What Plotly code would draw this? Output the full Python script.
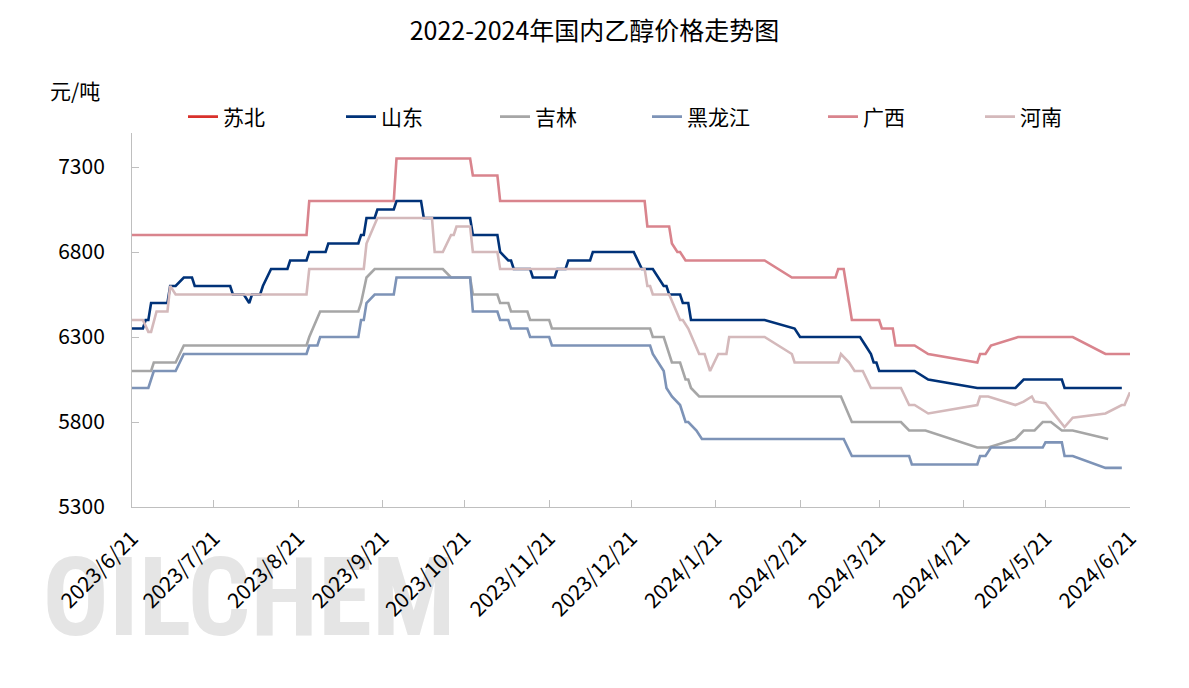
import plotly.graph_objects as go

# ---------------- data ----------------
tick_dates = ["2023-06-21", "2023-07-21", "2023-08-21", "2023-09-21", "2023-10-21",
              "2023-11-21", "2023-12-21", "2024-01-21", "2024-02-21", "2024-03-21",
              "2024-04-21", "2024-05-21", "2024-06-21"]
tick_labels = ["2023/6/21", "2023/7/21", "2023/8/21", "2023/9/21", "2023/10/21",
               "2023/11/21", "2023/12/21", "2024/1/21", "2024/2/21", "2024/3/21",
               "2024/4/21", "2024/5/21", "2024/6/21"]
y_ticks = [5300, 5800, 6300, 6800, 7300]

# 苏北: no values shown in the chart (legend only)
sb_dates = ["2023-06-21"]
sb_values = [None]

sd_dates = ["2023-06-21", "2023-06-25", "2023-06-26", "2023-06-27", "2023-06-28", "2023-07-04",
            "2023-07-05", "2023-07-07", "2023-07-10", "2023-07-13", "2023-07-14", "2023-07-27",
            "2023-07-28", "2023-08-01", "2023-08-03", "2023-08-04", "2023-08-07", "2023-08-08",
            "2023-08-11", "2023-08-17", "2023-08-18", "2023-08-24", "2023-08-25", "2023-08-31",
            "2023-09-01", "2023-09-12", "2023-09-13", "2023-09-14", "2023-09-15", "2023-09-18",
            "2023-09-19", "2023-09-25", "2023-09-26", "2023-10-05", "2023-10-06", "2023-10-23",
            "2023-10-24", "2023-11-02", "2023-11-03", "2023-11-06", "2023-11-07", "2023-11-08",
            "2023-11-14", "2023-11-15", "2023-11-23", "2023-11-24", "2023-11-27", "2023-11-28",
            "2023-12-06", "2023-12-07", "2023-12-22", "2023-12-25", "2023-12-29", "2024-01-02",
            "2024-01-03", "2024-01-04", "2024-01-08", "2024-01-09", "2024-01-11", "2024-01-12",
            "2024-02-08", "2024-02-19", "2024-02-21", "2024-03-14", "2024-03-16", "2024-03-18",
            "2024-03-19", "2024-03-20", "2024-03-21", "2024-04-03", "2024-04-08", "2024-04-26",
            "2024-05-10", "2024-05-13", "2024-05-27", "2024-05-28", "2024-06-18"]
sd_values = [6350, 6350, 6400, 6400, 6500, 6500,
             6600, 6600, 6650, 6650, 6600, 6600,
             6550, 6550, 6500, 6550, 6550, 6600,
             6700, 6700, 6750, 6750, 6800, 6800,
             6850, 6850, 6900, 6900, 7000, 7000,
             7050, 7050, 7100, 7100, 7000, 7000,
             6900, 6900, 6800, 6750, 6750, 6700,
             6700, 6650, 6650, 6700, 6700, 6750,
             6750, 6800, 6800, 6700, 6700, 6600,
             6600, 6550, 6550, 6500, 6500, 6400,
             6400, 6350, 6300, 6300, 6250, 6200,
             6150, 6150, 6100, 6100, 6050, 6000,
             6000, 6050, 6050, 6000, 6000]

jl_dates = ["2023-06-21", "2023-06-28", "2023-06-29", "2023-07-07", "2023-07-10", "2023-08-24",
            "2023-08-25", "2023-08-29", "2023-09-12", "2023-09-13", "2023-09-15", "2023-09-18",
            "2023-10-13", "2023-10-16", "2023-10-23", "2023-10-24", "2023-11-02", "2023-11-03",
            "2023-11-06", "2023-11-07", "2023-11-13", "2023-11-14", "2023-11-21", "2023-11-22",
            "2023-12-28", "2023-12-29", "2024-01-02", "2024-01-04", "2024-01-05", "2024-01-08",
            "2024-01-10", "2024-01-11", "2024-01-12", "2024-01-15", "2024-03-07", "2024-03-11",
            "2024-03-29", "2024-04-01", "2024-04-07", "2024-04-26", "2024-04-30", "2024-05-10",
            "2024-05-13", "2024-05-17", "2024-05-20", "2024-05-23", "2024-05-27", "2024-05-31",
            "2024-06-13"]
jl_values = [6100, 6100, 6150, 6150, 6250, 6250,
             6300, 6450, 6450, 6500, 6650, 6700,
             6700, 6650, 6650, 6550, 6550, 6500,
             6500, 6450, 6450, 6400, 6400, 6350,
             6350, 6300, 6300, 6200, 6150, 6150,
             6050, 6050, 6000, 5950, 5950, 5800,
             5800, 5750, 5750, 5650, 5650, 5700,
             5750, 5750, 5800, 5800, 5750, 5750,
             5700]

hlj_dates = ["2023-06-21", "2023-06-27", "2023-06-29", "2023-07-07", "2023-07-10", "2023-08-24",
             "2023-08-25", "2023-08-28", "2023-08-29", "2023-09-12", "2023-09-13", "2023-09-14",
             "2023-09-15", "2023-09-18", "2023-09-25", "2023-09-26", "2023-10-23", "2023-10-24",
             "2023-11-02", "2023-11-03", "2023-11-06", "2023-11-07", "2023-11-13", "2023-11-14",
             "2023-11-21", "2023-11-22", "2023-12-28", "2023-12-29", "2024-01-02", "2024-01-03",
             "2024-01-05", "2024-01-08", "2024-01-10", "2024-01-11", "2024-01-14", "2024-01-16",
             "2024-03-08", "2024-03-11", "2024-04-01", "2024-04-02", "2024-04-26", "2024-04-27",
             "2024-04-29", "2024-05-01", "2024-05-20", "2024-05-21", "2024-05-27", "2024-05-28",
             "2024-05-31", "2024-06-12", "2024-06-18"]
hlj_values = [6000, 6000, 6100, 6100, 6200, 6200,
              6250, 6250, 6300, 6300, 6400, 6400,
              6500, 6550, 6550, 6650, 6650, 6450,
              6450, 6400, 6400, 6350, 6350, 6300,
              6300, 6250, 6250, 6200, 6100, 6000,
              5950, 5900, 5800, 5800, 5750, 5700,
              5700, 5600, 5600, 5550, 5550, 5600,
              5600, 5650, 5650, 5680, 5680, 5600,
              5600, 5530, 5530]

gx_dates = ["2023-06-21", "2023-08-24", "2023-08-25", "2023-09-25", "2023-09-26", "2023-10-23",
            "2023-10-24", "2023-11-02", "2023-11-03", "2023-12-26", "2023-12-27", "2024-01-04",
            "2024-01-05", "2024-01-07", "2024-01-08", "2024-01-10", "2024-02-08", "2024-02-18",
            "2024-03-05", "2024-03-06", "2024-03-08", "2024-03-11", "2024-03-21", "2024-03-22",
            "2024-03-26", "2024-03-27", "2024-04-03", "2024-04-08", "2024-04-26", "2024-04-27",
            "2024-04-29", "2024-05-01", "2024-05-11", "2024-05-31", "2024-06-12", "2024-06-21"]
gx_values = [6900, 6900, 7100, 7100, 7350, 7350,
             7250, 7250, 7100, 7100, 6950, 6950,
             6850, 6800, 6800, 6750, 6750, 6650,
             6650, 6700, 6700, 6400, 6400, 6350,
             6350, 6250, 6250, 6200, 6150, 6200,
             6200, 6250, 6300, 6300, 6200, 6200]

hn_dates = ["2023-06-21", "2023-06-25", "2023-06-27", "2023-06-28", "2023-06-30", "2023-07-04",
            "2023-07-05", "2023-07-07", "2023-08-24", "2023-08-25", "2023-09-14", "2023-09-15",
            "2023-09-19", "2023-10-09", "2023-10-10", "2023-10-13", "2023-10-16", "2023-10-17",
            "2023-10-18", "2023-10-23", "2023-10-24", "2023-11-02", "2023-11-03", "2023-12-26",
            "2023-12-27", "2023-12-28", "2023-12-29", "2024-01-04", "2024-01-08", "2024-01-09",
            "2024-01-11", "2024-01-15", "2024-01-17", "2024-01-19", "2024-01-22", "2024-01-25",
            "2024-01-26", "2024-02-08", "2024-02-18", "2024-02-19", "2024-03-06", "2024-03-07",
            "2024-03-10", "2024-03-12", "2024-03-15", "2024-03-18", "2024-03-29", "2024-04-01",
            "2024-04-03", "2024-04-08", "2024-04-26", "2024-04-27", "2024-04-30", "2024-05-10",
            "2024-05-13", "2024-05-16", "2024-05-17", "2024-05-21", "2024-05-28", "2024-05-31",
            "2024-06-12", "2024-06-18", "2024-06-19", "2024-06-21"]
hn_values = [6400, 6400, 6330, 6330, 6450, 6450,
             6600, 6550, 6550, 6700, 6700, 6850,
             7000, 7000, 6800, 6800, 6900, 6900,
             6950, 6950, 6800, 6800, 6700, 6700,
             6600, 6600, 6550, 6550, 6400, 6400,
             6350, 6200, 6200, 6100, 6200, 6200,
             6300, 6300, 6200, 6150, 6150, 6200,
             6150, 6100, 6100, 6000, 6000, 5900,
             5900, 5850, 5900, 5950, 5950, 5900,
             5920, 5950, 5920, 5910, 5770, 5825,
             5850, 5900, 5900, 5975]

series_names = ["苏北", "山东", "吉林", "黑龙江", "广西", "河南"]
series_colors = ["#d9312b", "#003278", "#a6a6a6", "#7d93b7", "#d9848d", "#d4b9bb"]
series_dates = [sb_dates, sd_dates, jl_dates, hlj_dates, gx_dates, hn_dates]
series_values = [sb_values, sd_values, jl_values, hlj_values, gx_values, hn_values]

# ---------------- layout geometry ----------------
W, H = 1189, 688
ML, MR, MT, MB = 132, 59, 133, 181
PW = W - ML - MR
PH = H - MT - MB
FONT = "Noto Sans CJK SC"

def px_x(p):
    return (p - ML) / PW

def px_y(p):
    return (H - MB - p) / PH

legend_text_x = [223, 381, 535, 687, 863, 1020]

fig = go.Figure()
legend_layouts = {}
for i, (nm, col, dx, vy) in enumerate(zip(series_names, series_colors, series_dates, series_values)):
    lname = "legend" if i == 0 else f"legend{i+1}"
    fig.add_trace(go.Scatter(x=dx, y=vy, mode="lines", name=nm,
                             line=dict(color=col, width=2.6),
                             legend=lname, showlegend=True))
    legend_layouts[lname] = dict(
        x=px_x(legend_text_x[i] - 40), y=px_y(117), xanchor="left", yanchor="middle",
        orientation="h", bgcolor="rgba(0,0,0,0)", borderwidth=0,
        font=dict(family=FONT, size=21, color="#000000"),
    )

fig.update_layout(
    width=W, height=H,
    margin=dict(l=ML, r=MR, t=MT, b=MB, pad=0),
    paper_bgcolor="white", plot_bgcolor="white",
    font=dict(family=FONT, size=21, color="#000000"),
    title=dict(text="2022-2024年国内乙醇价格走势图", x=0.5, xanchor="center",
               xref="container", y=1 - 31 / H, yref="container", yanchor="middle",
               font=dict(family=FONT, size=25, color="#000000")),
    xaxis=dict(type="date", range=["2023-06-21", "2024-06-21"],
               tickvals=tick_dates, ticktext=tick_labels, tickangle=-45,
               showline=True, linecolor="#bfbfbf", linewidth=1,
               ticks="inside", ticklen=7, tickcolor="#bfbfbf",
               showgrid=False, zeroline=False, ticklabelstandoff=10,
               tickfont=dict(family=FONT, size=21, color="#000000")),
    yaxis=dict(range=[5300, 7500], tickvals=y_ticks,
               showline=True, linecolor="#bfbfbf", linewidth=1,
               ticks="inside", ticklen=7, tickcolor="#bfbfbf",
               showgrid=False, zeroline=False, ticklabelstandoff=22,
               tickfont=dict(family=FONT, size=21, color="#000000")),
    annotations=[dict(text="元/吨", xref="paper", yref="paper", x=px_x(75), y=px_y(90),
                      xanchor="center", yanchor="middle", showarrow=False,
                      font=dict(family=FONT, size=21, color="#000000"))],
    shapes=[dict(type="rect", xref="paper", yref="paper", layer="below",
                 x0=px_x(40), x1=px_x(458), y0=px_y(642), y1=px_y(537),
                 line=dict(width=0), fillcolor="rgba(0,0,0,0)",
                 label=dict(text="OILCHEM", textposition="middle center",
                            font=dict(family="Liberation Sans Narrow, Roboto Condensed, Roboto",
                                      size=110, color="#e5e5e5", weight="bold")))],
    **legend_layouts,
)

fig.write_html("out.html")
